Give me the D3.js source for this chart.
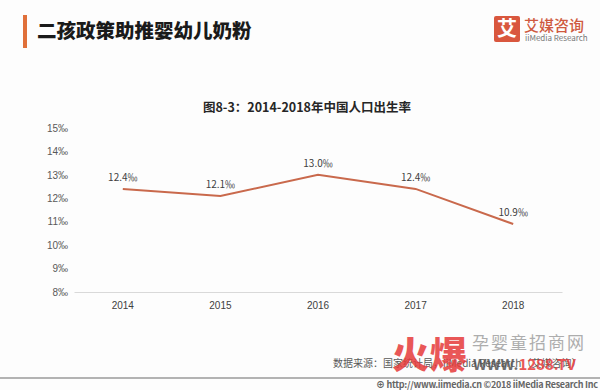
<!DOCTYPE html>
<html>
<head>
<meta charset="utf-8">
<script src="https://cdn.jsdelivr.net/npm/d3@7"></script>
<style>
  body { margin: 0; background: #fdfdfd; }
  svg { display: block; font-family: "Noto Sans CJK SC", "Noto Sans", sans-serif; }
</style>
</head>
<body>
<div id="chart"></div>
<script>
// data
const years = ["2014", "2015", "2016", "2017", "2018"];
const rates = [12.4, 12.1, 13.0, 12.4, 10.9];
const yTicks = [8, 9, 10, 11, 12, 13, 14, 15];

const width = 600;
const height = 390;

const svg = d3.select("#chart").append("svg")
    .attr("width", width)
    .attr("height", height);

svg.append("rect").attr("width", width).attr("height", height).attr("fill", "#fdfdfd");

// page header
svg.append("rect")
    .attr("x", 23).attr("y", 15).attr("width", 4).attr("height", 33)
    .attr("fill", "#e0703a");
svg.append("text")
    .attr("x", 37).attr("y", 38)
    .style("font-size", "19.5px").style("font-weight", "900")
    .attr("fill", "#1a1a1a")
    .text("二孩政策助推婴幼儿奶粉");

// logo
svg.append("rect")
    .attr("x", 494).attr("y", 16).attr("width", 26).attr("height", 26).attr("rx", 2)
    .attr("fill", "#d9573e");
svg.append("text")
    .attr("x", 507).attr("y", 36).attr("text-anchor", "middle")
    .style("font-size", "20px").style("font-weight", "700")
    .attr("fill", "#fff").text("艾");
svg.append("text")
    .attr("x", 524).attr("y", 31)
    .style("font-size", "15px").style("font-weight", "500")
    .attr("fill", "#cf5a40").text("艾媒咨询");
svg.append("text")
    .attr("x", 525).attr("y", 41)
    .style("font-size", "8px")
    .attr("fill", "#777").text("iiMedia Research");

// chart title
svg.append("text")
    .attr("x", 307).attr("y", 112).attr("text-anchor", "middle")
    .style("font-size", "12.5px").style("font-weight", "700")
    .attr("fill", "#262626")
    .text("图8-3：2014-2018年中国人口出生率");

const x = d3.scaleBand().domain(years).range([74, 562]);
const y = d3.scaleLinear().domain([8, 15]).range([292, 128]);

const xAxis = d3.axisBottom(x).tickSize(0).tickPadding(10);
const yAxis = d3.axisLeft(y).tickValues(yTicks).tickSize(0).tickPadding(6)
    .tickFormat(d => d + "‰");

const gx = svg.append("g")
    .attr("class", "axis xaxis")
    .attr("transform", "translate(0,292)")
    .call(xAxis);
gx.select(".domain").attr("stroke", "#d9d9d9").attr("stroke-width", 1);
gx.selectAll("text").attr("fill", "#404040").style("font-size", "10px");

const gy = svg.append("g")
    .attr("class", "axis yaxis")
    .attr("transform", "translate(74,0)")
    .call(yAxis);
gy.select(".domain").remove();
gy.selectAll("text").attr("fill", "#595959").style("font-size", "10px");

const cx = (d, i) => x(years[i]) + x.bandwidth() / 2;

const line = d3.line()
    .x(cx)
    .y(d => y(d));

svg.append("path")
    .datum(rates)
    .attr("fill", "none")
    .attr("stroke", "#c9694c")
    .attr("stroke-width", 2)
    .attr("d", line);

svg.selectAll(".val")
    .data(rates)
    .enter().append("text")
    .attr("class", "val")
    .attr("x", cx)
    .attr("y", d => y(d) - 8)
    .attr("text-anchor", "middle")
    .style("font-size", "10px")
    .attr("fill", "#404040")
    .text(d => d.toFixed(1) + "‰");

// source + watermark
svg.append("text")
    .attr("x", 472).attr("y", 349)
    .style("font-size", "17px")
    .attr("fill", "#9a9a9a").attr("opacity", 0.8)
    .attr("textLength", 112)
    .text("孕婴童招商网");
svg.append("text")
    .attr("x", 333).attr("y", 367)
    .style("font-size", "10px")
    .attr("fill", "#595959")
    .text("数据来源：国家统计局，iiMedia Research（艾媒咨询）");
svg.append("text")
    .attr("x", 392).attr("y", 369)
    .style("font-size", "37px").style("font-weight", "900")
    .attr("fill", "#e63b3b").attr("opacity", 0.85)
    .attr("textLength", 75)
    .text("火爆");
const ww = svg.append("text")
    .attr("x", 473).attr("y", 370)
    .style("font-size", "15px").style("font-weight", "700")
    .attr("opacity", 0.85);
ww.append("tspan").attr("fill", "#555").text("WWW.");
ww.append("tspan").attr("fill", "#e63b3b").text("1288.TV");

// footer
svg.append("line")
    .attr("x1", 0).attr("x2", width).attr("y1", 378).attr("y2", 378)
    .attr("stroke", "#9a9a9a").attr("stroke-width", 1.5);
svg.append("text")
    .attr("x", 376).attr("y", 388)
    .style("font-size", "9px").style("font-weight", "700")
    .attr("fill", "#666")
    .attr("textLength", 222)
    .text("⊕ http://www.iimedia.cn   ©2018   iiMedia Research  Inc");
</script>
</body>
</html>
